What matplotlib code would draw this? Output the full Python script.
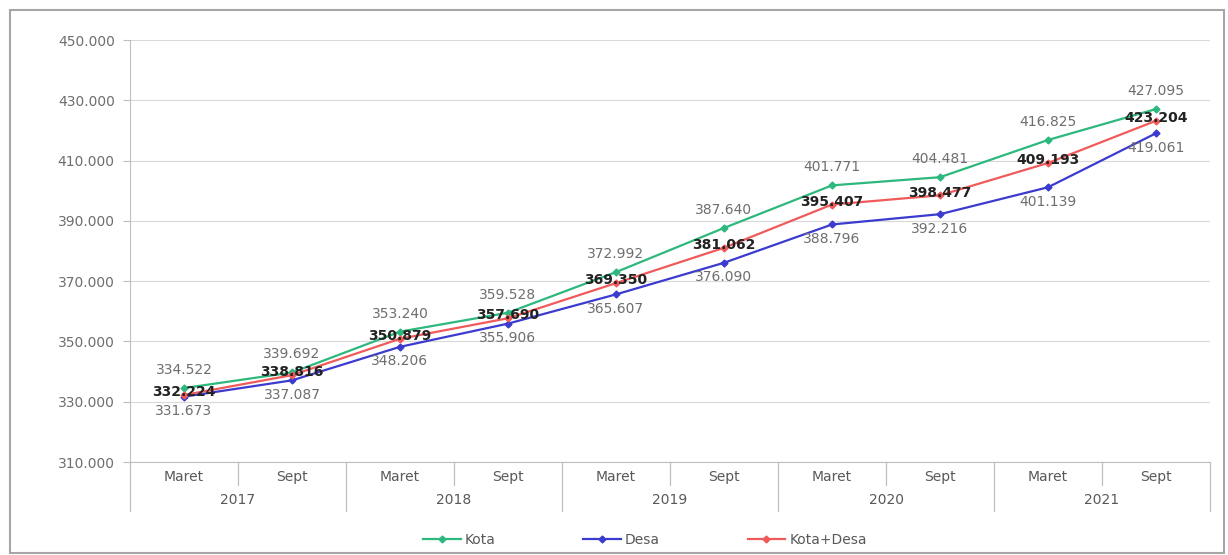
import matplotlib.pyplot as plt
from matplotlib.patches import Rectangle
import matplotlib.transforms as mtransforms

# Data (Rp, garis kemiskinan)
years = ["2017", "2018", "2019", "2020", "2021"]
periods = ["Maret", "Sept"]
kota = [334522, 339692, 353240, 359528, 372992, 387640, 401771, 404481, 416825, 427095]
desa = [331673, 337087, 348206, 355906, 365607, 376090, 388796, 392216, 401139, 419061]
kota_desa = [332224, 338816, 350879, 357690, 369350, 381062, 395407, 398477, 409193, 423204]
yticks = [310000, 330000, 350000, 370000, 390000, 410000, 430000, 450000]


def fmt(v):
    return f"{v:,}".replace(",", ".")


W, H = 1228, 555
FS = 10
fig = plt.figure(figsize=(W / 100, H / 100), dpi=100)
ax = fig.add_axes([130 / W, 1 - 462 / H, 1080 / W, 422 / H])

# light outer frame like the source document
fig.patches.append(Rectangle((10 / W, 2 / H), 1214 / W, 543 / H, transform=fig.transFigure,
                             fill=False, edgecolor="#a6a6a6", lw=1.5))

x = [i + 0.5 for i in range(len(kota))]
series = [
    (kota, "Kota", "#2db87d"),
    (desa, "Desa", "#3b3bd0"),
    (kota_desa, "Kota+Desa", "#f05a5a"),
]
for vals, name, col in series:
    ax.plot(x, vals, color=col, lw=1.6, marker="D", ms=3.5, label=name, zorder=3)

# data labels
for xi, v in zip(x, kota):
    ax.annotate(fmt(v), (xi, v), xytext=(0, 13), textcoords="offset points",
                ha="center", va="center", fontsize=FS, color="#6e6e6e")
for xi, v in zip(x, desa):
    ax.annotate(fmt(v), (xi, v), xytext=(0, -10.5), textcoords="offset points",
                ha="center", va="center", fontsize=FS, color="#6e6e6e")
for xi, v in zip(x, kota_desa):
    ax.annotate(fmt(v), (xi, v), xytext=(0, 2), textcoords="offset points",
                ha="center", va="center", fontsize=FS, color="#222222",
                fontweight="bold", zorder=4)

ax.set_xlim(0, 10)
ax.set_ylim(310000, 450000)
ax.set_yticks(yticks)
ax.set_yticklabels([fmt(t) for t in yticks], fontsize=FS, color="#6e6e6e")
ax.tick_params(axis="y", length=5, color="#bfbfbf", pad=6)
ax.grid(axis="y", color="#d9d9d9", lw=0.8)
ax.set_axisbelow(True)
ax.set_xticks([])
for s in ["top", "right"]:
    ax.spines[s].set_visible(False)
ax.spines["left"].set_color("#bfbfbf")
ax.spines["bottom"].set_color("#bfbfbf")

# two level category axis
trans = mtransforms.blended_transform_factory(ax.transData, ax.transAxes)
for i, xi in enumerate(x):
    ax.text(xi, -0.036, periods[i % 2], transform=trans, ha="center", va="center",
            fontsize=FS, color="#595959")
for j, yr in enumerate(years):
    ax.text(2 * j + 1, -0.09, yr, transform=trans, ha="center", va="center",
            fontsize=FS, color="#595959")
for k in range(11):
    low = -0.115 if k % 2 == 0 else -0.055
    ax.plot([k, k], [0, low], transform=trans, color="#bfbfbf", lw=0.9, clip_on=False)

ax.legend(loc="center", bbox_to_anchor=((645 - 130) / 1080, -0.185), ncol=3, frameon=False,
          fontsize=FS, handlelength=2.7, handletextpad=0.3, columnspacing=6.3,
          labelcolor="#595959")

fig.savefig("out.png", dpi=100)
